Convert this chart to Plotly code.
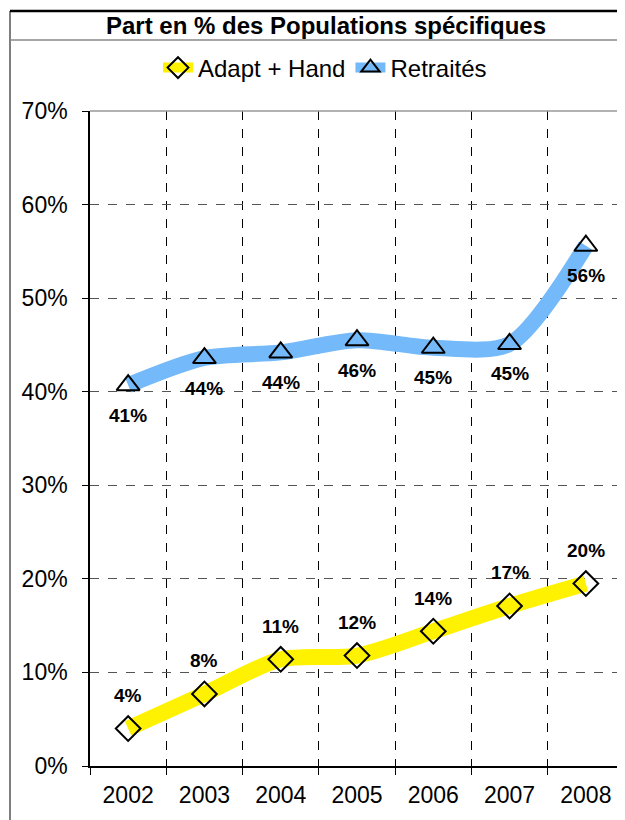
import plotly.graph_objects as go

# data
years = ["2002", "2003", "2004", "2005", "2006", "2007", "2008"]
adapt_hand = [4.0, 7.7, 11.4, 11.8, 14.4, 17.1, 19.5]
adapt_labels = ["4%", "8%", "11%", "12%", "14%", "17%", "20%"]
retraites = [40.7, 43.6, 44.2, 45.5, 44.7, 45.1, 55.6]
retraites_labels = ["41%", "44%", "44%", "46%", "45%", "45%", "56%"]
y_ticks = [0, 10, 20, 30, 40, 50, 60, 70]
y_ticktext = [f"{v}%" for v in y_ticks]

# page body adds an 8px margin, so everything is laid out 8px up/left
OFF = 8
W, H = 625 - OFF, 820 - OFF
L, R, T, B = 90 - OFF, 1, 111 - OFF, 54
PW, PH = W - L - R, H - T - B


def px(x):
    # reference pixel x -> paper x
    return (x - OFF - L) / PW


def py(y):
    # reference pixel y -> paper y
    return (H - B - (y - OFF)) / PH


FONT = "Liberation Sans, Arial, sans-serif"

fig = go.Figure()

fig.add_trace(go.Scatter(
    x=years, y=adapt_hand, name="Adapt + Hand",
    mode="lines+markers",
    line=dict(color="#FFF200", width=16, shape="spline", smoothing=0.8),
    marker=dict(symbol="diamond-open", size=19, color="black", line=dict(width=2)),
))
fig.add_trace(go.Scatter(
    x=years, y=retraites, name="Retraités",
    mode="lines+markers",
    line=dict(color="#74B9FA", width=16, shape="spline", smoothing=0.8),
    marker=dict(symbol="triangle-up-open", size=20, color="black", line=dict(width=2)),
))

annotations = []
for i, (v, t) in enumerate(zip(adapt_hand, adapt_labels)):
    annotations.append(dict(x=i, y=v, xref="x", yref="y", text=f"<b>{t}</b>",
                            showarrow=False, yshift=33,
                            font=dict(size=19, color="black", family=FONT)))
for i, (v, t) in enumerate(zip(retraites, retraites_labels)):
    annotations.append(dict(x=i, y=v, xref="x", yref="y", text=f"<b>{t}</b>",
                            showarrow=False, yshift=-30,
                            font=dict(size=19, color="black", family=FONT)))

shapes = [
    # outer frame
    dict(type="line", xref="paper", yref="paper", x0=px(10), x1=px(10), y0=py(11), y1=py(830),
         line=dict(color="#555", width=1.5)),
    dict(type="line", xref="paper", yref="paper", x0=px(10), x1=px(630), y0=py(11), y1=py(11),
         line=dict(color="black", width=2.5)),
    dict(type="line", xref="paper", yref="paper", x0=px(10), x1=px(630), y0=py(40), y1=py(40),
         line=dict(color="#888", width=1.5)),
    # plot area border top / right
    dict(type="line", xref="paper", yref="paper", x0=0, x1=1, y0=1, y1=1,
         line=dict(color="#999", width=1.5)),
    dict(type="line", xref="paper", yref="paper", x0=1, x1=1, y0=0, y1=1,
         line=dict(color="#999", width=1.5)),
]

fig.update_layout(
    width=W, height=H,
    margin=dict(l=L, r=R, t=T, b=B),
    paper_bgcolor="white", plot_bgcolor="white",
    font=dict(family=FONT, color="black"),
    title=dict(text="<b>Part en % des Populations spécifiques</b>",
               x=px(326), xref="paper", xanchor="center",
               y=1 - (26 - OFF) / H, yref="container", yanchor="middle",
               font=dict(size=24, family=FONT, color="black")),
    legend=dict(orientation="h", x=px(325), xanchor="center", y=py(68), yanchor="middle",
                font=dict(size=24, family=FONT), bgcolor="rgba(0,0,0,0)"),
    xaxis=dict(type="category", tickson="boundaries", ticks="outside", ticklen=7,
               tickcolor="black", showline=True, linecolor="black", linewidth=1.5,
               showgrid=True, gridcolor="black", griddash="dash", gridwidth=1,
               tickfont=dict(size=23), ticklabelstandoff=8, range=[-0.5, 6.5]),
    yaxis=dict(range=[0, 70], tickvals=y_ticks, ticktext=y_ticktext,
               ticks="outside", ticklen=6, tickcolor="black",
               showline=True, linecolor="black", linewidth=1.5,
               showgrid=True, gridcolor="#555", griddash="dash", gridwidth=1,
               zeroline=False, tickfont=dict(size=23), ticklabelstandoff=10),
    annotations=annotations,
    shapes=shapes,
    showlegend=True,
)

fig.write_html("out.html")
